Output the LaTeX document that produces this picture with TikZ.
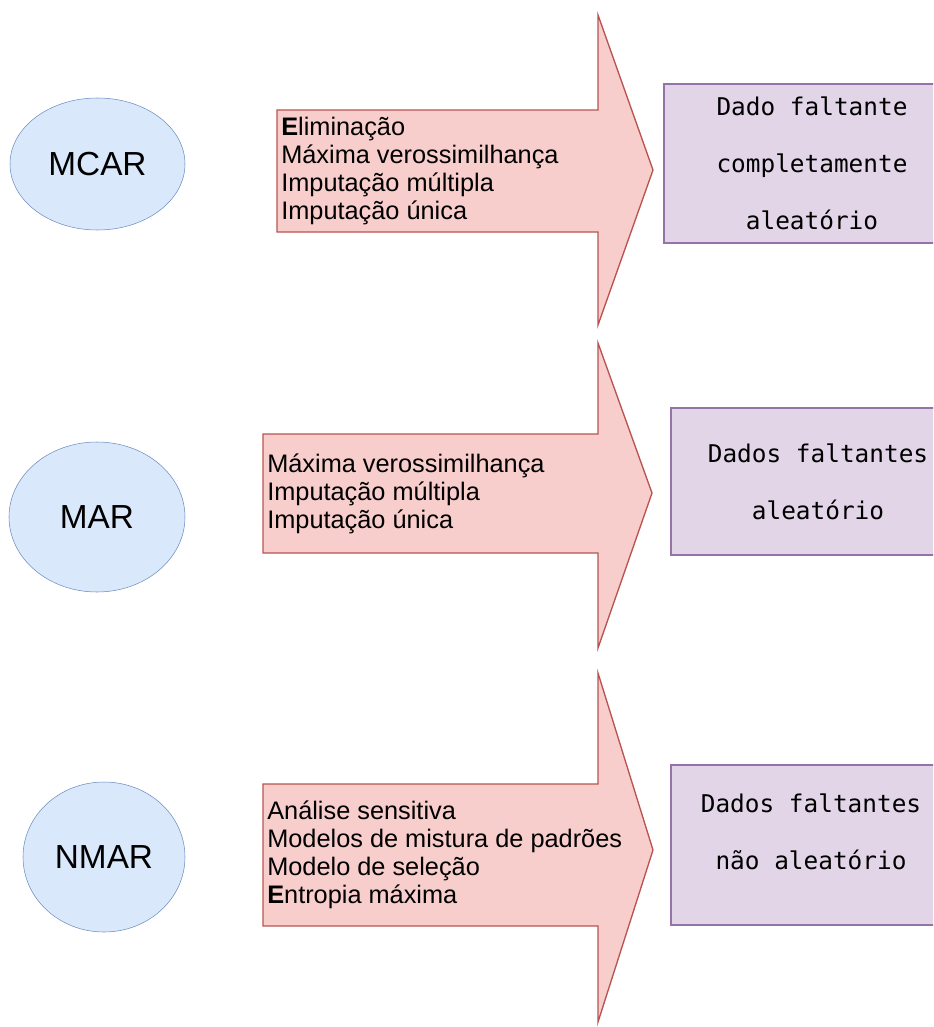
\documentclass[tikz,border=0pt]{standalone}
\usepackage{fontspec}
\setmainfont{Liberation Sans}
\newfontfamily\monobox{DejaVu Sans Mono}
\usetikzlibrary{shapes.geometric}

\definecolor{causefill}{HTML}{DAE8FC}
\definecolor{causeline}{HTML}{6C8EBF}
\definecolor{arrowfill}{HTML}{F8CECC}
\definecolor{arrowline}{HTML}{B85450}
\definecolor{resfill}{HTML}{E1D5E7}
\definecolor{resline}{HTML}{9673A6}

\begin{document}
\begin{tikzpicture}[
    x=0.75pt, y=-0.75pt,
    cause/.style={
        draw=causeline, fill=causefill, ellipse,
        inner sep=0pt,
        font=\fontsize{25}{30}\selectfont
    },
    methods/.style={
        anchor=west, align=left,
        inner xsep=3pt, inner ysep=0pt,
        font=\fontsize{19}{21}\selectfont
    },
    bigarrow/.style={
        draw=arrowline, fill=arrowfill,
        line width=1pt
    },
    resbox/.style={
        draw=resline, fill=resfill, rectangle,
        line width=0.8pt, inner sep=0pt
    },
    restext/.style={
        align=center,
        font=\monobox\fontsize{18.3}{43}\selectfont
    }
]
\useasboundingbox (0,0) rectangle (933,1027);
\clip (0,0) rectangle (933,1027);

% MCAR
\node[cause, minimum width={175*0.75pt}, minimum height={132*0.75pt}] (mcar) at (97.5,164) {MCAR};
\draw[bigarrow] (277,110) -- (598,110) -- (598,15) -- (653,170) -- (598,325) -- (598,232) -- (277,232) -- cycle;
\node[methods] (metMcar) at (277,171) {{\bfseries E}liminação\\Máxima verossimilhança\\Imputação múltipla\\Imputação única};
\node[resbox, minimum width={296*0.75pt}, minimum height={159*0.75pt}] (resMcar) at (812,163.5) {};
\node[restext] (txtMcar) at (resMcar.center) {Dado faltante\\completamente\\aleatório};

% MAR
\node[cause, minimum width={176*0.75pt}, minimum height={150*0.75pt}] (mar) at (97,517) {MAR};
\draw[bigarrow] (263,434) -- (598,434) -- (598,343) -- (652,493) -- (598,648) -- (598,553) -- (263,553) -- cycle;
\node[methods] (metMar) at (263,493.5) {Máxima verossimilhança\\Imputação múltipla\\Imputação única};
\node[resbox, minimum width={294*0.75pt}, minimum height={147*0.75pt}] (resMar) at (818,481.5) {};
\node[restext] (txtMar) at (resMar.center) {Dados faltantes\\aleatório};

% NMAR
\node[cause, minimum width={162*0.75pt}, minimum height={150*0.75pt}] (nmar) at (104,857) {NMAR};
\draw[bigarrow] (263,784) -- (598,784) -- (598,673) -- (653,850) -- (598,1022) -- (598,926) -- (263,926) -- cycle;
\node[methods] (metNmar) at (263,855) {Análise sensitiva\\Modelos de mistura de padrões\\Modelo de seleção\\{\bfseries E}ntropia máxima};
\node[resbox, minimum width={280*0.75pt}, minimum height={160*0.75pt}] (resNmar) at (811,845) {};
\node[restext] (txtNmar) at (811,832) {Dados faltantes\\não aleatório};
\end{tikzpicture}
\end{document}
